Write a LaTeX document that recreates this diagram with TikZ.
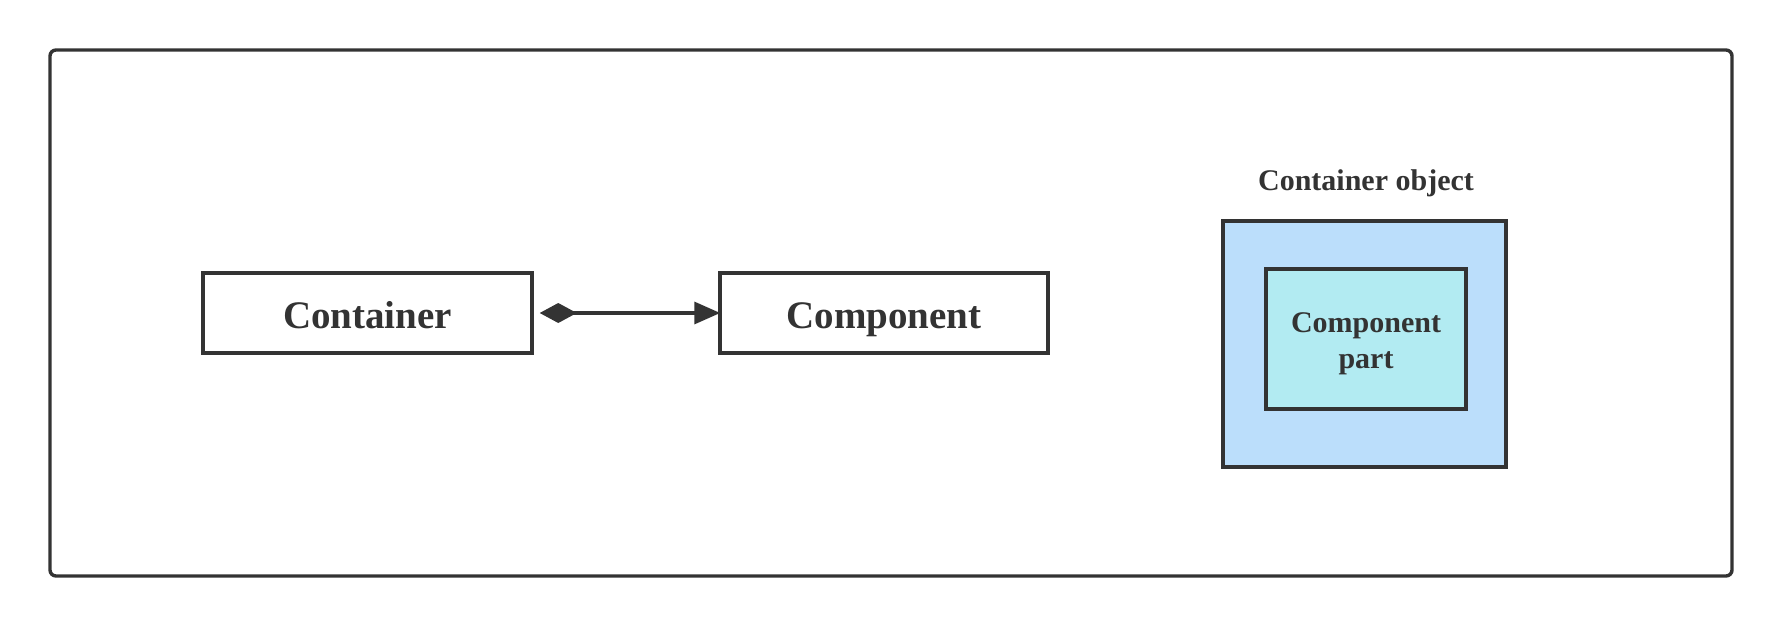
\documentclass[tikz,border=0pt]{standalone}
\usepackage{fontspec}
\setmainfont{Liberation Serif}
\usetikzlibrary{arrows.meta}
\definecolor{ink}{HTML}{333333}
\definecolor{outerblue}{HTML}{BBDEFB}
\definecolor{innercyan}{HTML}{B2EBF2}
\tikzset{
  u/.style={x=0.5pt,y=-0.5pt},
  frame/.style={draw=ink,line width=1.7pt,rounded corners=3pt},
  umlbox/.style={draw=ink,line width=1.75pt,fill=white,inner sep=0pt,
    font=\fontsize{19.5}{23}\selectfont\bfseries,text=ink,
    text height=15.5pt,text depth=0pt},
  partbox/.style={draw=ink,line width=1.75pt,inner sep=0pt},
  caption/.style={font=\fontsize{15}{18}\selectfont\bfseries,text=ink,inner sep=0pt},
  composition/.style={draw=ink,line width=1.7pt,
    {Diamond[length=18.5pt,width=10pt]}-{Triangle[length=13pt,width=11pt]}}
}
\begin{document}
\begin{tikzpicture}[u]
\useasboundingbox (0,0) rectangle (1782,626);
\draw[frame] (50,50) rectangle (1732,576);
\node[umlbox,minimum width=164.5pt,minimum height=40pt] (cont) at (367.5,313) {Container};
\node[umlbox,minimum width=164pt,minimum height=40pt] (comp) at (884,313) {Component};
\draw[composition,shorten <=3pt,shorten >=-1pt] (cont.east) -- (comp.west);
\node[partbox,fill=outerblue,minimum width=141.5pt,minimum height=123pt] (obj) at (1364.5,344) {};
\node[partbox,fill=innercyan,minimum width=100pt,minimum height=70pt] (part) at (1366,339) {};
\node[caption,align=center] (parttext) at (1366,344) {Component\\part};
\node[caption,anchor=base] (objlabel) at (1366,190) {Container object};
\end{tikzpicture}
\end{document}
